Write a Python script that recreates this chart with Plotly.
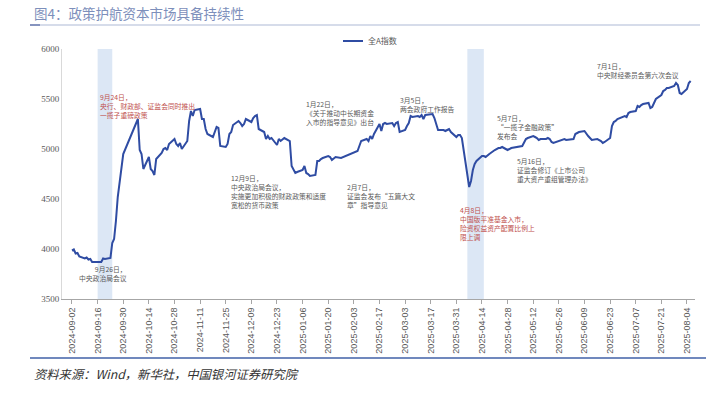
import plotly.graph_objects as go

dates = ["2024-09-02","2024-09-03","2024-09-04","2024-09-05","2024-09-06","2024-09-09","2024-09-10","2024-09-11","2024-09-12","2024-09-13",
"2024-09-18","2024-09-19","2024-09-20","2024-09-23","2024-09-24","2024-09-25","2024-09-26","2024-09-27","2024-09-30","2024-10-08",
"2024-10-09","2024-10-10","2024-10-11","2024-10-14","2024-10-15","2024-10-16","2024-10-17","2024-10-18","2024-10-21","2024-10-22",
"2024-10-23","2024-10-24","2024-10-25","2024-10-28","2024-10-29","2024-10-30","2024-10-31","2024-11-01","2024-11-04","2024-11-05",
"2024-11-06","2024-11-07","2024-11-08","2024-11-11","2024-11-12","2024-11-13","2024-11-14","2024-11-15","2024-11-18","2024-11-19",
"2024-11-20","2024-11-21","2024-11-22","2024-11-25","2024-11-26","2024-11-27","2024-11-28","2024-11-29","2024-12-02","2024-12-03",
"2024-12-04","2024-12-05","2024-12-06","2024-12-09","2024-12-10","2024-12-11","2024-12-12","2024-12-13","2024-12-16","2024-12-17",
"2024-12-18","2024-12-19","2024-12-20","2024-12-23","2024-12-24","2024-12-25","2024-12-26","2024-12-27","2024-12-30","2024-12-31",
"2025-01-02","2025-01-03","2025-01-06","2025-01-07","2025-01-08","2025-01-09","2025-01-10","2025-01-13","2025-01-14","2025-01-15",
"2025-01-16","2025-01-17","2025-01-20","2025-01-21","2025-01-22","2025-01-23","2025-01-24","2025-01-27","2025-02-05","2025-02-06",
"2025-02-07","2025-02-10","2025-02-11","2025-02-12","2025-02-13","2025-02-14","2025-02-17","2025-02-18","2025-02-19","2025-02-20",
"2025-02-21","2025-02-24","2025-02-25","2025-02-26","2025-02-27","2025-02-28","2025-03-03","2025-03-04","2025-03-05","2025-03-06",
"2025-03-07","2025-03-10","2025-03-11","2025-03-12","2025-03-13","2025-03-14","2025-03-17","2025-03-18","2025-03-19","2025-03-20",
"2025-03-21","2025-03-24","2025-03-25","2025-03-26","2025-03-27","2025-03-28","2025-03-31","2025-04-01","2025-04-02","2025-04-03",
"2025-04-07","2025-04-08","2025-04-09","2025-04-10","2025-04-11","2025-04-14","2025-04-15","2025-04-16","2025-04-17","2025-04-18",
"2025-04-21","2025-04-22","2025-04-23","2025-04-24","2025-04-25","2025-04-28","2025-04-29","2025-04-30","2025-05-06","2025-05-07",
"2025-05-08","2025-05-09","2025-05-12","2025-05-13","2025-05-14","2025-05-15","2025-05-16","2025-05-19","2025-05-20","2025-05-21",
"2025-05-22","2025-05-23","2025-05-26","2025-05-27","2025-05-28","2025-05-29","2025-05-30","2025-06-03","2025-06-04","2025-06-05",
"2025-06-06","2025-06-09","2025-06-10","2025-06-11","2025-06-12","2025-06-13","2025-06-16","2025-06-17","2025-06-18","2025-06-19",
"2025-06-20","2025-06-23","2025-06-24","2025-06-25","2025-06-26","2025-06-27","2025-06-30","2025-07-01","2025-07-02","2025-07-03",
"2025-07-04","2025-07-07","2025-07-08","2025-07-09","2025-07-10","2025-07-11","2025-07-14","2025-07-15","2025-07-16","2025-07-17",
"2025-07-18","2025-07-21","2025-07-22","2025-07-23","2025-07-24","2025-07-25","2025-07-28","2025-07-29","2025-07-30","2025-07-31",
"2025-08-01","2025-08-04","2025-08-05","2025-08-06"]

values = [3985,3995,3955,3960,3925,3905,3915,3895,3900,3870,
3870,3905,3900,3910,4060,4100,4280,4520,4950,5300,
4990,4950,4800,4920,4800,4780,4740,4900,4960,5000,
5010,4990,5050,5100,5050,5030,5060,5000,5080,5280,
5380,5330,5390,5400,5300,5300,5200,5150,5120,5170,
5220,5210,5030,5020,5050,5150,5170,5240,5280,5260,
5230,5250,5300,5270,5310,5330,5340,5200,5170,5100,
5130,5100,5110,5040,5100,5080,5100,5110,5080,4830,
4760,4770,4790,4830,4760,4750,4730,4740,4880,4880,
4900,4910,4930,4920,4890,4910,4920,4910,4980,5030,
5080,5100,5080,5130,5100,5150,5250,5180,5250,5260,
5250,5260,5230,5260,5270,5170,5190,5230,5260,5330,
5320,5330,5320,5340,5300,5340,5345,5350,5310,5260,
5190,5190,5180,5190,5200,5170,5120,5140,5140,5110,
4620,4680,4790,4850,4880,4930,4930,4920,4940,4950,
4990,5000,5010,5010,5020,4990,5000,5010,5030,5060,
5100,5110,5130,5120,5110,5090,5100,5100,5110,5100,
5070,5060,5080,5080,5090,5100,5090,5100,5150,5160,
5170,5180,5150,5130,5110,5090,5100,5090,5080,5060,
5070,5110,5230,5270,5280,5300,5320,5330,5320,5360,
5370,5380,5430,5420,5440,5450,5460,5410,5420,5460,
5500,5540,5580,5590,5610,5610,5630,5660,5640,5560,
5550,5600,5660,5680]

tick_dates = ["2024-09-02","2024-09-16","2024-09-30","2024-10-14","2024-10-28","2024-11-11","2024-11-25","2024-12-09","2024-12-23",
"2025-01-06","2025-01-20","2025-02-03","2025-02-17","2025-03-03","2025-03-17","2025-03-31","2025-04-14","2025-04-28","2025-05-12",
"2025-05-26","2025-06-09","2025-06-23","2025-07-07","2025-07-21","2025-08-04"]

bands = [("2024-09-16", "2024-09-24"), ("2025-04-06", "2025-04-15")]

# (x date, top value, text, color, anchor)
notes = [
    ("2024-09-16", 5590, "9月24日，<br>央行、财政部、证监会同时推出<br>一揽子重磅政策", "#c0504d", "left"),
    ("2024-10-03", 3870, "9月26日，<br>中央政治局会议", "#595959", "right"),
    ("2024-11-27", 4780, "12月9日，<br>中央政治局会议，<br>实施更加积极的财政政策和适度<br>宽松的货币政策", "#595959", "left"),
    ("2025-01-07", 5520, "1月22日，<br>《关于推动中长期资金<br>入市的指导意见》出台", "#595959", "left"),
    ("2025-02-27", 5565, "3月5日，<br>两会政府工作报告", "#595959", "left"),
    ("2025-01-29", 4690, "2月7日，<br>证监会发布\u201c五篇大文<br>章\u201d指导意见", "#595959", "left"),
    ("2025-04-01", 4460, "4月8日，<br>中国版平准基金入市，<br>险资权益资产配置比例上<br>限上调", "#c0504d", "left"),
    ("2025-04-21", 5380, "5月7日，<br>\u201c一揽子金融政策\u201d<br>发布会", "#595959", "left"),
    ("2025-05-02", 4950, "5月16日，<br>证监会修订《上市公司<br>重大资产重组管理办法》", "#595959", "left"),
    ("2025-06-15", 5900, "7月1日，<br>中央财经委员会第六次会议", "#595959", "left"),
]

W, H = 713, 395
L, T = 62, 49
R = W - 695
B = H - 299
PW, PH = W - L - R, H - T - B

def px(x):
    return (x - L) / PW

def py(y):
    return (H - B - y) / PH

fig = go.Figure()
fig.add_trace(go.Scatter(x=dates, y=values, mode="lines", name="全A指数",
                         line=dict(color="#2f4ca3", width=2), showlegend=False))

for a, b in bands:
    fig.add_vrect(x0=a, x1=b, fillcolor="#dce7f5", line_width=0, layer="below")

for d, v, t, c, anc in notes:
    fig.add_annotation(x=d, y=v, text=t, showarrow=False, xanchor=anc, yanchor="top",
                       align=anc, font=dict(size=6.8, color=c, family="Noto Sans CJK SC"))

# title and rules
fig.add_annotation(x=px(32), y=py(13), xref="paper", yref="paper", xanchor="left", yanchor="middle",
                   text="图4：政策护航资本市场具备持续性", showarrow=False,
                   font=dict(size=13.5, color="#7d8fbb", family="Noto Sans CJK SC"))
fig.add_shape(type="line", xref="paper", yref="paper", x0=px(30), x1=px(700), y0=py(25), y1=py(25),
              line=dict(color="#c9d1e3", width=1.5))
fig.add_shape(type="line", xref="paper", yref="paper", x0=px(30), x1=px(40), y0=py(25), y1=py(25),
              line=dict(color="#6b7db0", width=1.5))

# legend drawn manually
fig.add_shape(type="line", xref="paper", yref="paper", x0=px(343), x1=px(363), y0=py(41), y1=py(41),
              line=dict(color="#2f4ca3", width=2))
fig.add_annotation(x=px(366), y=py(41), xref="paper", yref="paper", xanchor="left", yanchor="middle",
                   text="全A指数", showarrow=False,
                   font=dict(size=8, color="#595959", family="Noto Sans CJK SC"))

# bottom rule and source
fig.add_shape(type="line", xref="paper", yref="paper", x0=px(30), x1=px(706), y0=py(358), y1=py(358),
              line=dict(color="#7088bd", width=2))
fig.add_annotation(x=px(32), y=py(374), xref="paper", yref="paper", xanchor="left", yanchor="middle",
                   text="<i>资料来源：Wind，新华社，中国银河证券研究院</i>", showarrow=False,
                   font=dict(size=12.3, color="#333333", family="Noto Sans CJK SC"))

fig.update_layout(
    width=W, height=H,
    margin=dict(l=L, r=R, t=T, b=B, autoexpand=False),
    paper_bgcolor="white", plot_bgcolor="white",
    showlegend=False,
    xaxis=dict(type="date", range=["2024-08-27 13:00", "2025-08-08 09:00"], automargin=False,
               tickvals=tick_dates, ticktext=tick_dates, tickangle=-90,
               tickfont=dict(size=9, color="#595959", family="Liberation Sans"),
               showgrid=False, showline=True, linecolor="#a6a6a6", linewidth=1,
               ticks="outside", ticklen=4, tickcolor="#a6a6a6", zeroline=False),
    yaxis=dict(range=[3500, 6000], dtick=500, tick0=3500, automargin=False,
               tickfont=dict(size=9, color="#595959", family="Liberation Serif"),
               showgrid=False, showline=True, linecolor="#d9d9d9", linewidth=1,
               ticks="", zeroline=False),
)

fig.write_html("out.html", config={"displayModeBar": False},
               post_script="document.body.style.margin='0';document.body.style.overflow='hidden';")
